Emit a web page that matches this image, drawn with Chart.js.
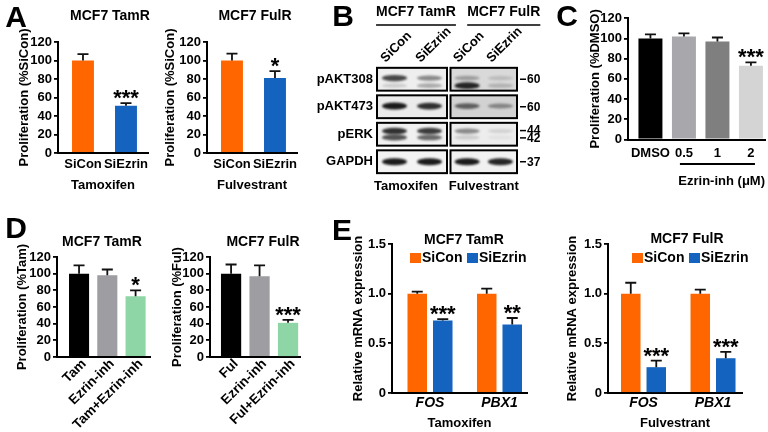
<!DOCTYPE html>
<html>
<head>
<meta charset="utf-8">
<script src="https://cdn.jsdelivr.net/npm/chart.js@4.4.1/dist/chart.umd.min.js"></script>
<style>
  html, body { margin: 0; padding: 0; background: #fff; }
  #wrap { position: relative; width: 768px; height: 432px; overflow: hidden; }
  #wrap canvas { position: absolute; left: 0; top: 0; }
</style>
</head>
<body>
<div id="wrap">
  <canvas id="a1" width="768" height="432"></canvas>
  <canvas id="a2" width="768" height="432"></canvas>
  <canvas id="b" width="768" height="432"></canvas>
  <canvas id="c" width="768" height="432"></canvas>
  <canvas id="d1" width="768" height="432"></canvas>
  <canvas id="d2" width="768" height="432"></canvas>
  <canvas id="e1" width="768" height="432"></canvas>
  <canvas id="e2" width="768" height="432"></canvas>
</div>
<script>
const FONT = "'Liberation Sans', Arial, sans-serif";
const ORANGE = '#ff6600';
const BLUE = '#1463be';

// A - siRNA knockdown, proliferation (% SiCon)
const aGroups = ['SiCon', 'SiEzrin'];
const aTamMean = [100, 51];
const aTamErr = [7, 3];
const aTamStars = ['', '***'];
const aFulMean = [100, 81];
const aFulErr = [7.5, 7.5];
const aFulStars = ['', '*'];

// B - western blot (band darkness 0..1 per lane)
const blotGroups = ['MCF7 TamR', 'MCF7 FulR'];
const blotDrugs = ['Tamoxifen', 'Fulvestrant'];
const blotLanes = ['SiCon', 'SiEzrin', 'SiCon', 'SiEzrin'];
const blotRows = ['pAKT308', 'pAKT473', 'pERK', 'GAPDH'];
const pAkt308Upper = [0.75, 0.45, 0.3, 0.15];
const pAkt308Lower = [0.15, 0.3, 0.9, 0.2];
const pAkt473Band = [0.95, 0.85, 0.6, 0.4];
const pErk44Band = [0.85, 0.8, 0.45, 0.12];
const pErk42Band = [0.7, 0.6, 0.15, 0.05];
const gapdhBand = [0.95, 0.95, 0.95, 0.9];
const mwLabels = ['60', '60', '44', '42', '37'];
const mwRow = [0, 1, 2, 2, 3];

// C - Ezrin inhibitor dose
const cDoses = ['DMSO', '0.5', '1', '2'];
const cMean = [100, 102, 97, 73];
const cErr = [4, 3, 4, 3.3];
const cStars = ['', '', '', '***'];

// D - combination with inhibitor
const dTamGroups = ['Tam', 'Ezrin-inh', 'Tam+Ezrin-inh'];
const dTamMean = [100, 98, 73];
const dTamErr = [10, 7, 7];
const dTamStars = ['', '', '*'];
const dFulGroups = ['Ful', 'Ezrin-inh', 'Ful+Ezrin-inh'];
const dFulMean = [100, 97, 41];
const dFulErr = [11, 13, 3.5];
const dFulStars = ['', '', '***'];

// E - relative mRNA expression
const eGenes = ['FOS', 'PBX1'];
const eSeries = ['SiCon', 'SiEzrin'];
const eTamSiCon = [1.0, 1.0];
const eTamSiConErr = [0.02, 0.05];
const eTamSiEzrin = [0.73, 0.69];
const eTamSiEzrinErr = [0.013, 0.065];
const eTamStars = ['***', '**'];
const eFulSiCon = [1.0, 1.0];
const eFulSiConErr = [0.11, 0.04];
const eFulSiEzrin = [0.26, 0.35];
const eFulSiEzrinErr = [0.065, 0.065];
const eFulStars = ['***', '***'];

const toXY = vals => vals.map((v, i) => ({ x: i, y: v }));

// error bars (upper only) and significance stars
const errorBars = {
  id: 'errorBars',
  afterDatasetsDraw(chart) {
    const ctx = chart.ctx;
    const ys = chart.scales.y;
    chart.data.datasets.forEach((ds, i) => {
      if (!ds.errors) return;
      chart.getDatasetMeta(i).data.forEach((bar, j) => {
        const top = ys.getPixelForValue(ds.data[j].y + ds.errors[j]);
        ctx.save();
        ctx.strokeStyle = '#111';
        ctx.lineWidth = 1.8;
        ctx.beginPath();
        ctx.moveTo(bar.x, bar.y);
        ctx.lineTo(bar.x, top);
        ctx.moveTo(bar.x - 5.5, top);
        ctx.lineTo(bar.x + 5.5, top);
        ctx.stroke();
        if (ds.stars && ds.stars[j]) {
          ctx.fillStyle = '#000';
          ctx.font = `bold 22px ${FONT}`;
          ctx.textAlign = 'center';
          ctx.textBaseline = 'alphabetic';
          ctx.fillText(ds.stars[j], bar.x, top + 2);
        }
        ctx.restore();
      });
    });
  }
};

// free text: panel letters and plot titles
function textLayer(items) {
  return {
    id: 'textLayer',
    afterDraw(chart) {
      const ctx = chart.ctx;
      items.forEach(t => {
        ctx.save();
        ctx.fillStyle = '#000';
        ctx.font = `bold ${t.size || 13}px ${FONT}`;
        ctx.textAlign = t.align || 'center';
        ctx.textBaseline = 'middle';
        ctx.fillText(t.text, t.x, t.y);
        ctx.restore();
      });
    }
  };
}

// line under a range of categories (C)
function bracketLine(from, to, y) {
  return {
    id: 'bracketLine',
    afterDraw(chart) {
      const ctx = chart.ctx, xs = chart.scales.x;
      ctx.save();
      ctx.strokeStyle = '#000';
      ctx.lineWidth = 1.8;
      ctx.beginPath();
      ctx.moveTo(xs.getPixelForValue(from), y);
      ctx.lineTo(xs.getPixelForValue(to), y);
      ctx.stroke();
      ctx.restore();
    }
  };
}

// small legend from the datasets (E)
function legendLayer(xs, y) {
  return {
    id: 'legendLayer',
    afterDraw(chart) {
      const ctx = chart.ctx;
      chart.data.datasets.forEach((ds, i) => {
        ctx.save();
        ctx.fillStyle = ds.backgroundColor;
        ctx.fillRect(xs[i], y - 5, 11, 10);
        ctx.fillStyle = '#000';
        ctx.font = `bold 14px ${FONT}`;
        ctx.textAlign = 'left';
        ctx.textBaseline = 'middle';
        ctx.fillText(ds.label, xs[i] + 12, y);
        ctx.restore();
      });
    }
  };
}

function makeBars(id, o) {
  const fs = 13;
  const yW = o.box.l - o.yTitleX + fs / 2;
  const xH = o.xH;
  const font = { family: FONT, size: fs, weight: 'bold', lineHeight: 1 };
  return new Chart(document.getElementById(id), {
    type: 'bar',
    data: { datasets: o.datasets },
    options: {
      responsive: false,
      animation: false,
      events: [],
      layout: { padding: { left: o.box.l - yW, right: 768 - o.box.r, top: o.box.t, bottom: 432 - o.box.b - xH } },
      plugins: { legend: { display: false }, tooltip: { enabled: false } },
      scales: {
        x: {
          type: 'linear',
          offset: false,
          min: o.xr[0],
          max: o.xr[1],
          afterBuildTicks: s => { s.ticks = o.labels.map((_, i) => ({ value: i })); },
          afterFit: s => { s.height = xH; s.paddingLeft = 0; s.paddingRight = 0; },
          grid: { display: false, drawTicks: false, offset: false },
          border: { display: true, color: '#000', width: 2 },
          ticks: {
            autoSkip: false,
            minRotation: o.rot || 0,
            maxRotation: o.rot || 0,
            padding: o.xPad,
            labelOffset: o.labelShift || 0,
            color: '#000',
            font: { ...font, size: o.xSize || fs, style: o.italic ? 'italic' : 'normal' },
            callback: v => o.labels[v]
          },
          title: { display: !!o.xTitle, text: o.xTitle || '', align: o.xAlign || 'center', color: '#000', font, padding: 0 }
        },
        y: {
          min: 0,
          max: o.yMax,
          afterFit: s => { s.width = yW; s.paddingTop = 0; s.paddingBottom = 0; },
          grid: { display: true, drawOnChartArea: false, drawTicks: true, tickLength: 4, color: '#000', lineWidth: 1.8 },
          border: { display: true, color: '#000', width: 2 },
          ticks: { stepSize: o.yStep, padding: 2, color: '#000', font, callback: o.yFmt || (v => v) },
          title: { display: true, text: o.yTitle, color: '#000', font, padding: 0 }
        }
      }
    },
    plugins: [errorBars, textLayer(o.texts || []), ...(o.extra || [])]
  });
}

// ---- A ----
makeBars('a1', {
  box: { l: 58, r: 148, t: 42, b: 153 }, xr: [-0.581, 1.512], labels: aGroups,
  yMax: 120, yStep: 20, yTitle: 'Proliferation (%SiCon)', yTitleX: 24,
  xTitle: 'Tamoxifen', xH: 39, xPad: 5,
  datasets: [{ data: toXY(aTamMean), errors: aTamErr, stars: aTamStars, backgroundColor: [ORANGE, BLUE], barPercentage: 0.51, categoryPercentage: 1 }],
  texts: [{ text: 'A', x: 16, y: 19, size: 30 }, { text: 'MCF7 TamR', x: 110, y: 16, size: 14 }]
});
makeBars('a2', {
  box: { l: 207, r: 297, t: 42, b: 153 }, xr: [-0.581, 1.512], labels: aGroups,
  yMax: 120, yStep: 20, yTitle: 'Proliferation (%SiCon)', yTitleX: 170,
  xTitle: 'Fulvestrant', xH: 39, xPad: 5,
  datasets: [{ data: toXY(aFulMean), errors: aFulErr, stars: aFulStars, backgroundColor: [ORANGE, BLUE], barPercentage: 0.51, categoryPercentage: 1 }],
  texts: [{ text: 'MCF7 FulR', x: 255, y: 16, size: 14 }]
});

// ---- B (blot) ----
function blotLayer() {
  return {
    id: 'blotLayer',
    afterDraw(chart) {
      const ctx = chart.ctx;
      const X = v => chart.scales.x.getPixelForValue(v);
      const Y = v => chart.scales.y.getPixelForValue(v);
      const panes = [[0, 2], [2.1, 4]];
      const laneX = lane => {
        const p = panes[Math.floor(lane / 2)];
        return X(p[0] + ((lane % 2) + 0.5) * (p[1] - p[0]) / 2);
      };
      const paneTone = [['#eeeeee', '#d9d9d9'], ['#ebebeb', '#d2d2d2'], ['#f0f0f0', '#ededed'], ['#f3f3f3', '#f1f1f1']];
      const bandSets = [
        [[pAkt308Upper, 0.45], [pAkt308Lower, 0.78]],
        [[pAkt473Band, 0.47]],
        [[pErk44Band, 0.36], [pErk42Band, 0.64]],
        [[gapdhBand, 0.5]]
      ];
      blotRows.forEach((name, r) => {
        const top = Y(r + 0.03), bot = Y(r + 0.86), h = bot - top;
        panes.forEach((p, k) => {
          const x0 = X(p[0]), x1 = X(p[1]);
          ctx.save();
          ctx.beginPath();
          ctx.rect(x0, top, x1 - x0, h);
          ctx.clip();
          ctx.fillStyle = paneTone[r][k];
          ctx.fillRect(x0, top, x1 - x0, h);
          ctx.filter = 'blur(1.2px)';
          bandSets[r].forEach(([vals, at]) => {
            [0, 1].forEach(q => {
              const lane = k * 2 + q, a = vals[lane];
              ctx.fillStyle = `rgba(15,15,15,${a})`;
              ctx.beginPath();
              ctx.ellipse(laneX(lane), top + h * at, 12.5, 1.8 + 1.8 * a, 0, 0, Math.PI * 2);
              ctx.fill();
            });
          });
          ctx.restore();
          ctx.save();
          ctx.strokeStyle = '#000';
          ctx.lineWidth = 2;
          ctx.strokeRect(x0, top, x1 - x0, h);
          ctx.restore();
        });
        ctx.save();
        ctx.fillStyle = '#000';
        ctx.font = `bold 13px ${FONT}`;
        ctx.textAlign = 'right';
        ctx.textBaseline = 'middle';
        ctx.fillText(name, X(0) - 4, (top + bot) / 2);
        // molecular weight marks
        const marks = mwLabels.map((m, i) => ({ m, i })).filter(o => mwRow[o.i] === r);
        marks.forEach((o, n) => {
          const at = marks.length === 1 ? 0.5 : (n === 0 ? 0.34 : 0.66);
          const y = top + h * at;
          ctx.strokeStyle = '#000';
          ctx.lineWidth = 1.5;
          ctx.beginPath();
          ctx.moveTo(X(4) + 3, y);
          ctx.lineTo(X(4) + 9, y);
          ctx.stroke();
          ctx.font = `bold 12px ${FONT}`;
          ctx.textAlign = 'left';
          ctx.fillText(o.m, X(4) + 10, y + 0.5);
        });
        ctx.restore();
      });
      // lane labels, group headers, drug labels
      ctx.save();
      ctx.fillStyle = '#000';
      ctx.font = `bold 13px ${FONT}`;
      blotLanes.forEach((lab, lane) => {
        ctx.save();
        ctx.translate(laneX(lane) - 9, 63);
        ctx.rotate(-Math.PI / 4);
        ctx.textAlign = 'left';
        ctx.textBaseline = 'alphabetic';
        ctx.fillText(lab, 0, 0);
        ctx.restore();
      });
      panes.forEach((p, k) => {
        const cx = (X(p[0]) + X(p[1])) / 2 + (k === 0 ? 4 : 20);
        ctx.font = `bold 14px ${FONT}`;
        ctx.textAlign = 'center';
        ctx.textBaseline = 'middle';
        ctx.fillText(blotGroups[k], cx, 12);
        const w = ctx.measureText(blotGroups[k]).width;
        ctx.strokeStyle = '#000';
        ctx.lineWidth = 1.5;
        ctx.beginPath();
        ctx.moveTo(cx - w / 2, 25);
        ctx.lineTo(cx + w / 2, 25);
        ctx.stroke();
        ctx.font = `bold 13px ${FONT}`;
        ctx.fillText(blotDrugs[k], (X(p[0]) + X(p[1])) / 2 - (k === 0 ? 6 : 0), 186);
      });
      ctx.restore();
    }
  };
}
new Chart(document.getElementById('b'), {
  type: 'scatter',
  data: { datasets: [] },
  options: {
    responsive: false,
    animation: false,
    events: [],
    layout: { padding: { left: 377, right: 768 - 517, top: 67, bottom: 432 - 177 } },
    plugins: { legend: { display: false }, tooltip: { enabled: false } },
    scales: {
      x: { type: 'linear', min: 0, max: 4, display: false },
      y: { type: 'linear', min: 0, max: 4, reverse: true, display: false }
    }
  },
  plugins: [blotLayer(), textLayer([{ text: 'B', x: 343, y: 18, size: 30 }])]
});

// ---- C ----
makeBars('c', {
  box: { l: 628, r: 765, t: 18.3, b: 139.5 }, xr: [-0.67, 3.42], labels: cDoses,
  yMax: 120, yStep: 20, yTitle: 'Proliferation (%DMSO)', yTitleX: 595,
  xTitle: 'Ezrin-inh (μM)', xAlign: 'end', xH: 48, xPad: 7,
  datasets: [{ data: toXY(cMean), errors: cErr, stars: cStars, backgroundColor: ['#000000', '#a8a8ac', '#7f7f7f', '#d4d4d4'], barPercentage: 0.716, categoryPercentage: 1 }],
  texts: [{ text: 'C', x: 567, y: 18, size: 30 }],
  extra: [bracketLine(0.88, 3.12, 164)]
});

// ---- D ----
const dColors = ['#000000', '#9d9da2', '#8fd6a6'];
makeBars('d1', {
  box: { l: 57, r: 150, t: 257, b: 357 }, xr: [-0.78, 2.51], labels: dTamGroups,
  yMax: 120, yStep: 20, yTitle: 'Proliferation (%Tam)', yTitleX: 22,
  xH: 72, xPad: 0, rot: 45, xSize: 13.5, labelShift: 5,
  datasets: [{ data: toXY(dTamMean), errors: dTamErr, stars: dTamStars, backgroundColor: dColors, barPercentage: 0.71, categoryPercentage: 1 }],
  texts: [{ text: 'D', x: 16, y: 230, size: 30 }, { text: 'MCF7 TamR', x: 102, y: 242, size: 14 }]
});
makeBars('d2', {
  box: { l: 210, r: 300, t: 257, b: 357 }, xr: [-0.74, 2.42], labels: dFulGroups,
  yMax: 120, yStep: 20, yTitle: 'Proliferation (%Ful)', yTitleX: 177,
  xH: 72, xPad: 0, rot: 45, xSize: 13.5, labelShift: 5,
  datasets: [{ data: toXY(dFulMean), errors: dFulErr, stars: dFulStars, backgroundColor: dColors, barPercentage: 0.71, categoryPercentage: 1 }],
  texts: [{ text: 'MCF7 FulR', x: 263, y: 242, size: 14 }]
});

// ---- E ----
const eFmt = v => (v === 0 ? '0' : v.toFixed(1));
makeBars('e1', {
  box: { l: 392, r: 527, t: 244, b: 393 }, xr: [-0.547, 1.396], labels: eGenes,
  yMax: 1.5, yStep: 0.5, yFmt: eFmt, yTitle: 'Relative mRNA expression', yTitleX: 358,
  xTitle: 'Tamoxifen', xH: 36.5, xPad: 3, italic: true, xSize: 14,
  datasets: [
    { label: eSeries[0], data: toXY(eTamSiCon), errors: eTamSiConErr, backgroundColor: ORANGE, categoryPercentage: 0.734, barPercentage: 0.765 },
    { label: eSeries[1], data: toXY(eTamSiEzrin), errors: eTamSiEzrinErr, stars: eTamStars, backgroundColor: BLUE, categoryPercentage: 0.734, barPercentage: 0.765 }
  ],
  texts: [{ text: 'E', x: 342, y: 232, size: 30 }, { text: 'MCF7 TamR', x: 464, y: 240, size: 14 }],
  extra: [legendLayer([410, 467], 258)]
});
makeBars('e2', {
  box: { l: 608, r: 742, t: 244, b: 393 }, xr: [-0.511, 1.417], labels: eGenes,
  yMax: 1.5, yStep: 0.5, yFmt: eFmt, yTitle: 'Relative mRNA expression', yTitleX: 572,
  xTitle: 'Fulvestrant', xH: 36.5, xPad: 3, italic: true, xSize: 14,
  datasets: [
    { label: eSeries[0], data: toXY(eFulSiCon), errors: eFulSiConErr, backgroundColor: ORANGE, categoryPercentage: 0.734, barPercentage: 0.765 },
    { label: eSeries[1], data: toXY(eFulSiEzrin), errors: eFulSiEzrinErr, stars: eFulStars, backgroundColor: BLUE, categoryPercentage: 0.734, barPercentage: 0.765 }
  ],
  texts: [{ text: 'MCF7 FulR', x: 687, y: 239, size: 14 }],
  extra: [legendLayer([632, 689], 258)]
});
</script>
</body>
</html>
